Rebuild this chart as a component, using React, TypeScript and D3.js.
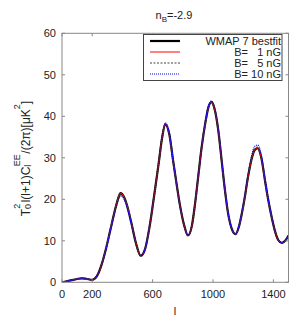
import React from "react";
import * as d3 from "d3";

const ells = [0, 50, 100, 130, 160, 200, 230, 260, 290, 320, 350, 370, 388, 410, 430, 460, 490, 521, 550, 580, 610, 640, 662, 684, 710, 737, 760, 781, 810, 834, 860, 880, 900, 924, 950, 970, 990, 1010, 1035, 1060, 1079, 1100, 1125, 1149, 1170, 1190, 1211, 1230, 1255, 1275, 1295, 1320, 1344, 1365, 1388, 1410, 1432, 1456, 1478, 1500];

const wmap = [0, 0.4, 0.8, 0.95, 0.85, 0.6, 1.4, 4.0, 7.9, 12.6, 17.3, 20.0, 21.5, 20.6, 18.6, 14.2, 9.4, 6.4, 8.0, 13.4, 20.8, 28.6, 34.6, 38.0, 35.8, 29.0, 23.4, 18.6, 13.6, 11.3, 13.6, 18.6, 24.8, 32.3, 38.6, 42.2, 43.4, 41.8, 36.6, 28.4, 22.2, 16.6, 12.8, 11.6, 13.2, 16.4, 20.6, 25.0, 29.6, 31.8, 32.3, 30.0, 24.6, 20.0, 15.8, 12.4, 10.2, 9.5, 10.0, 11.3];

const b1 = [0, 0.4, 0.8, 0.95, 0.85, 0.6, 1.4, 4.0, 7.9, 12.6, 17.3, 20.0, 21.5, 20.6, 18.6, 14.2, 9.4, 6.4, 8.0, 13.4, 20.8, 28.6, 34.6, 38.0, 35.8, 29.0, 23.4, 18.6, 13.6, 11.3, 13.6, 18.6, 24.8, 32.3, 38.6, 42.2, 43.4, 41.8, 36.6, 28.4, 22.2, 16.6, 12.8, 11.6, 13.2, 16.4, 20.6, 25.0, 29.6, 31.8, 32.3, 30.0, 24.6, 20.0, 15.8, 12.4, 10.2, 9.5, 10.0, 11.3];

const b5 = [0, 0.4, 0.8, 0.95, 0.85, 0.6, 1.4, 4.0, 7.9, 12.6, 17.3, 20.0, 21.4, 20.5, 18.6, 14.2, 9.4, 6.4, 8.0, 13.4, 20.8, 28.6, 34.7, 38.1, 35.9, 29.0, 23.4, 18.6, 13.6, 11.3, 13.6, 18.6, 24.8, 32.3, 38.6, 42.3, 43.5, 41.9, 36.6, 28.4, 22.2, 16.6, 12.8, 11.6, 13.2, 16.4, 20.6, 25.1, 29.8, 32.1, 32.6, 30.2, 24.7, 20.0, 15.8, 12.4, 10.2, 9.5, 10.0, 11.3];

const b10 = [0, 0.4, 0.8, 0.95, 0.85, 0.6, 1.4, 3.9, 7.7, 12.3, 16.9, 19.5, 20.9, 20.1, 18.2, 14.0, 9.3, 6.4, 8.0, 13.5, 21.0, 28.9, 35.0, 38.4, 36.1, 29.2, 23.5, 18.7, 13.6, 11.3, 13.6, 18.7, 25.0, 32.5, 38.9, 42.5, 43.7, 42.1, 36.8, 28.6, 22.3, 16.7, 12.8, 11.6, 13.3, 16.6, 20.9, 25.5, 30.4, 32.7, 33.1, 30.7, 25.0, 20.2, 15.9, 12.4, 10.2, 9.5, 10.0, 11.3];

const xTicks = [0, 200, 600, 1000, 1400];
const yTicks = [0, 10, 20, 30, 40, 50, 60];

const W = 305;
const H = 319;
const L = 62;
const R = 288.5;
const T = 33.3;
const B = 282.3;

export default function App() {
  const x = d3.scaleLinear().domain([0, 1500]).range([L, R]);
  const y = d3.scaleLinear().domain([0, 60]).range([B, T]);
  const mk = (vals: number[]) =>
    d3
      .line<number>()
      .x((_, i) => x(ells[i]))
      .y((v) => y(v))
      .curve(d3.curveMonotoneX)(vals) || "";

  const font = "'Liberation Sans', Arial, sans-serif";
  const axisColor = "#888";
  const legendRows = [
    { label: "WMAP 7 bestfit", stroke: "#000", width: 2.2, dash: "" },
    { label: "B=   1 nG", stroke: "#ff0000", width: 1, dash: "" },
    { label: "B=   5 nG", stroke: "#444", width: 1.2, dash: "2,1.5" },
    { label: "B= 10 nG", stroke: "#0000ff", width: 1.2, dash: "1,1" },
  ];
  const series = [wmap, b1, b5, b10];

  return (
    <svg
      width={W}
      height={H}
      style={{ position: "absolute", left: 0, top: 0, background: "#fff" }}
      fontFamily={font}
    >
      <rect x={0} y={0} width={W} height={H} fill="#fff" />
      {/* title */}
      <text x={174} y={19} fontSize={11} textAnchor="middle" fill="#222">
        n<tspan fontSize={8} dy={3}>B</tspan>
        <tspan dy={-3}>=-2.9</tspan>
      </text>

      {/* curves */}
      <defs>
        <clipPath id="clip">
          <rect x={L} y={T} width={R - L} height={B - T} />
        </clipPath>
      </defs>
      <g clipPath="url(#clip)">
        {series.map((s, i) => (
          <path
            key={i}
            d={mk(s)}
            fill="none"
            stroke={legendRows[i].stroke}
            strokeWidth={legendRows[i].width}
            strokeDasharray={legendRows[i].dash || undefined}
          />
        ))}
      </g>

      {/* frame */}
      <rect x={L} y={T} width={R - L} height={B - T} fill="none" stroke={axisColor} strokeWidth={1} />
      {xTicks.map((t) => (
        <g key={"x" + t}>
          <line x1={x(t)} x2={x(t)} y1={B} y2={B - 3} stroke={axisColor} />
          <line x1={x(t)} x2={x(t)} y1={T} y2={T + 3} stroke={axisColor} />
          <text x={x(t)} y={297.5} fontSize={11} textAnchor="middle" fill="#222">
            {t}
          </text>
        </g>
      ))}
      {yTicks.map((t) => (
        <g key={"y" + t}>
          <line x1={L} x2={L + 3} y1={y(t)} y2={y(t)} stroke={axisColor} />
          <line x1={R} x2={R - 3} y1={y(t)} y2={y(t)} stroke={axisColor} />
          <text x={56} y={y(t) + 4} fontSize={11} textAnchor="end" fill="#222">
            {t}
          </text>
        </g>
      ))}

      {/* axis labels */}
      <text x={175} y={315} fontSize={11} textAnchor="middle" fill="#222">
        l
      </text>
      <text
        transform="translate(29.5,158.5) rotate(-90)"
        fontSize={12}
        textAnchor="middle"
        fill="#222"
      >
        T<tspan fontSize={9} dy={1.5}>0</tspan>
        <tspan fontSize={9} dx={-5} dy={-11.5}>2</tspan>
        <tspan dx={1.5} dy={10}>l(l+1)C</tspan>
        <tspan fontSize={9} dy={1.5}>l</tspan>
        <tspan fontSize={9} dx={-1.5} dy={-11.5}>EE</tspan>
        <tspan dx={0.5} dy={10}>/(2π)[μK</tspan>
        <tspan fontSize={9} dy={-10}>2</tspan>
        <tspan dy={10}>]</tspan>
      </text>

      {/* legend */}
      <rect x={143.5} y={34.5} width={138.5} height={46} fill="#fff" stroke="#444" strokeWidth={1} />
      {legendRows.map((r, i) => {
        const yy = 41 + i * 11;
        return (
          <g key={"l" + i}>
            <line
              x1={150}
              x2={180}
              y1={yy}
              y2={yy}
              stroke={r.stroke}
              strokeWidth={r.width}
              strokeDasharray={r.dash || undefined}
            />
            <text x={281} y={yy + 4} fontSize={11} textAnchor="end" fill="#222" style={{ whiteSpace: "pre" }}>
              {r.label}
            </text>
          </g>
        );
      })}
    </svg>
  );
}
